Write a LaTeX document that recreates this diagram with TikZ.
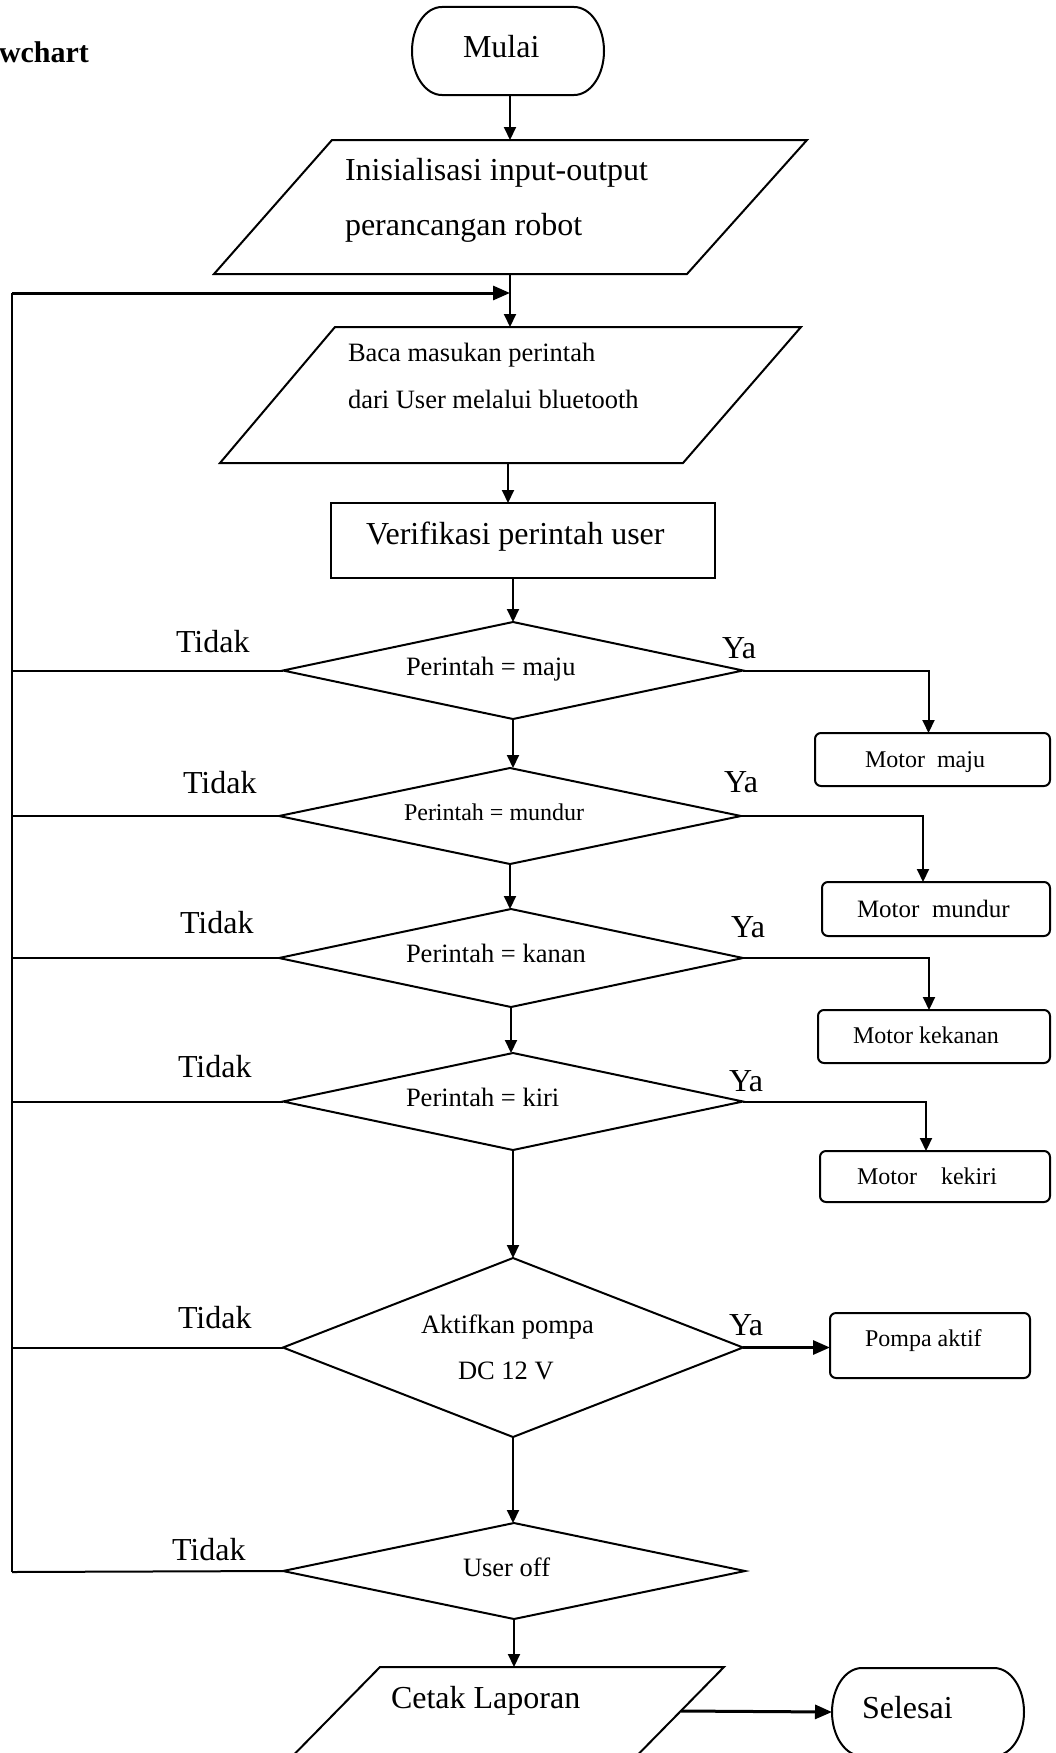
\documentclass[tikz,border=0pt]{standalone}
\usepackage{fontspec}
\setmainfont{Liberation Serif}
\usetikzlibrary{arrows.meta,shapes.geometric,calc}

\begin{document}
\begin{tikzpicture}[x=1pt,y=-1pt,
  line width=2pt, line join=miter,
  every node/.style={inner sep=0pt, outer sep=0pt},
  arr/.style={-{Triangle[length=13pt,width=12pt]}},
  thickarr/.style={line width=3pt,-{Triangle[length=17pt,width=14pt]}},
  term/.style={rectangle, minimum width=192pt, minimum height=88pt},
  proc/.style={draw, rectangle, minimum width=384pt, minimum height=75pt},
  act/.style={draw, rectangle, rounded corners=6pt},
  dec/.style={draw, diamond, minimum width=#1},
  lbl/.style={anchor=base west},
  fA/.style={font=\fontsize{32}{38}\selectfont},
  fB/.style={font=\fontsize{26.5}{32}\selectfont},
  fC/.style={font=\fontsize{24}{29}\selectfont},
  fD/.style={font=\fontsize{25}{30}\selectfont}
]
\useasboundingbox (0,0) rectangle (1056,1753);
\clip (0,0) rectangle (1056,1753);

% heading
\node[anchor=base west, font=\bfseries\fontsize{30}{36}\selectfont] (head) at (-1,63) {wchart};

% start
\node[term] (mulai) at (508,51) {};
\draw ([xshift=30pt]mulai.north west) -- ([xshift=-30pt]mulai.north east)
  arc[start angle=-90, end angle=90, x radius=30, y radius=44]
  -- ([xshift=30pt]mulai.south west)
  arc[start angle=90, end angle=270, x radius=30, y radius=44] -- cycle;
\node[lbl,fA] (tmulai) at (463,58) {Mulai};

% input parallelogram 1
\coordinate (p1top) at (510,140);
\coordinate (p1bot) at (510,274);
\draw (332,140) -- (807,140) -- (687,274) -- (214,274) -- cycle;
\node[lbl,fA] (tp1a) at (345,180) {Inisialisasi input-output};
\node[lbl,fA] (tp1b) at (345,235) {perancangan robot};

% loop join
\coordinate (j) at (510,293);
\coordinate (lt) at (12,293);
\coordinate (lb) at (12,1572);

% input parallelogram 2
\coordinate (p2top) at (510,327);
\coordinate (p2bot) at (508,463);
\draw (335,327) -- (801,327) -- (683,463) -- (220,463) -- cycle;
\node[lbl,fB] (tp2a) at (348,361) {Baca masukan perintah};
\node[lbl,fB] (tp2b) at (348,408) {dari User melalui bluetooth};

% verification
\node[proc] (verif) at (523,540.5) {};
\node[lbl,fA] (tverif) at (366,544) {Verifikasi perintah user};

% decisions
\node[dec=460pt, minimum height=97pt] (d1) at (513,670.5) {};
\node[lbl,fB] (td1) at (406,675) {Perintah = maju};
\node[dec=462pt, minimum height=96pt] (d2) at (510,816) {};
\node[lbl,fC] (td2) at (404,820) {Perintah = mundur};
\node[dec=464pt, minimum height=98pt] (d3) at (511,958) {};
\node[lbl,fB] (td3) at (406,962) {Perintah = kanan};
\node[dec=460pt, minimum height=97pt] (d4) at (513,1101.5) {};
\node[lbl,fB] (td4) at (406,1106) {Perintah = kiri};
\node[dec=460pt, minimum height=179pt] (d5) at (513,1347.5) {};
\node[lbl,fB] (td5a) at (421,1333) {Aktifkan pompa};
\node[lbl,fB] (td5b) at (458,1379) {DC 12 V};
\node[dec=462pt, minimum height=96pt] (d6) at (514,1571) {};
\node[lbl,fB] (td6) at (463,1576) {User off};

% actions
\node[act, minimum width=235pt, minimum height=53pt] (m1) at (932.5,759.5) {};
\node[lbl,fC] (tm1) at (865,767) {Motor\hspace{0.25em} maju};
\node[act, minimum width=228pt, minimum height=54pt] (m2) at (936,909) {};
\node[lbl,fD] (tm2) at (857,917) {Motor\hspace{0.25em} mundur};
\node[act, minimum width=232pt, minimum height=53pt] (m3) at (934,1036.5) {};
\node[lbl,fC] (tm3) at (853,1043) {Motor kekanan};
\node[act, minimum width=230pt, minimum height=51pt] (m4) at (935,1176.5) {};
\node[lbl,fC] (tm4) at (857,1184) {Motor\hspace{1em}kekiri};
\node[act, minimum width=200pt, minimum height=65pt] (pompa) at (930,1345.5) {};
\node[lbl,fC] (tpompa) at (865,1346) {Pompa aktif};

% output parallelogram and end
\coordinate (p3top) at (514,1667);
\coordinate (p3r) at (681,1711);
\draw (380,1667) -- (724,1667) -- (613,1780) -- (269,1780) -- cycle;
\node[lbl,fA] (tp3) at (391,1708) {Cetak Laporan};
\node[term] (selesai) at (928,1712) {};
\draw ([xshift=30pt]selesai.north west) -- ([xshift=-30pt]selesai.north east)
  arc[start angle=-90, end angle=90, x radius=30, y radius=44]
  -- ([xshift=30pt]selesai.south west)
  arc[start angle=90, end angle=270, x radius=30, y radius=44] -- cycle;
\node[lbl,fA] (tselesai) at (862,1718) {Selesai};

% branch labels
\node[lbl,fA] (n1) at (176,652) {Tidak};
\node[lbl,fA] (y1) at (722,658) {Ya};
\node[lbl,fA] (n2) at (183,793) {Tidak};
\node[lbl,fA] (y2) at (724,792) {Ya};
\node[lbl,fA] (n3) at (180,933) {Tidak};
\node[lbl,fA] (y3) at (731,937) {Ya};
\node[lbl,fA] (n4) at (178,1077) {Tidak};
\node[lbl,fA] (y4) at (729,1091) {Ya};
\node[lbl,fA] (n5) at (178,1328) {Tidak};
\node[lbl,fA] (y5) at (729,1335) {Ya};
\node[lbl,fA] (n6) at (172,1560) {Tidak};

% main flow
\draw[arr] (p1top |- mulai.south) -- (p1top);
\draw (p1bot) -- (j);
\draw[arr] (j) -- (p2top);
\draw[arr] (p2bot) -- (p2bot |- verif.north);
\draw[arr] (d1.north |- verif.south) -- (d1.north);
\draw[arr] (d1.south) -- (d1.south |- d2.north);
\draw[arr] (d2.south) -- (d2.south |- d3.north);
\draw[arr] (d3.south) -- (d3.south |- d4.north);
\draw[arr] (d4.south) -- (d4.south |- d5.north);
\draw[arr] (d5.south) -- (d5.south |- d6.north);
\draw[arr] (d6.south) -- (d6.south |- p3top);

% yes branches
\draw[arr] (d1.east) -| ([xshift=-4pt]m1.north);
\draw[arr] (d2.east) -| ([xshift=-13pt]m2.north);
\draw[arr] (d3.east) -| ([xshift=-5pt]m3.north);
\draw[arr] (d4.east) -| ([xshift=-9pt]m4.north);
\draw[thickarr] (d5.east) -- (pompa.west |- d5.east);
\draw[thickarr] (p3r) -- (selesai.west);

% no branches back to the loop
\draw (d1.west) -- (d1.west -| lt);
\draw (d2.west) -- (d2.west -| lt);
\draw (d3.west) -- (d3.west -| lt);
\draw (d4.west) -- (d4.west -| lt);
\draw (d5.west) -- (d5.west -| lt);
\draw (d6.west) -- (lb);
\draw (lb) -- (lt);
\draw[thickarr] (lt) -- (j);
\end{tikzpicture}
\end{document}
